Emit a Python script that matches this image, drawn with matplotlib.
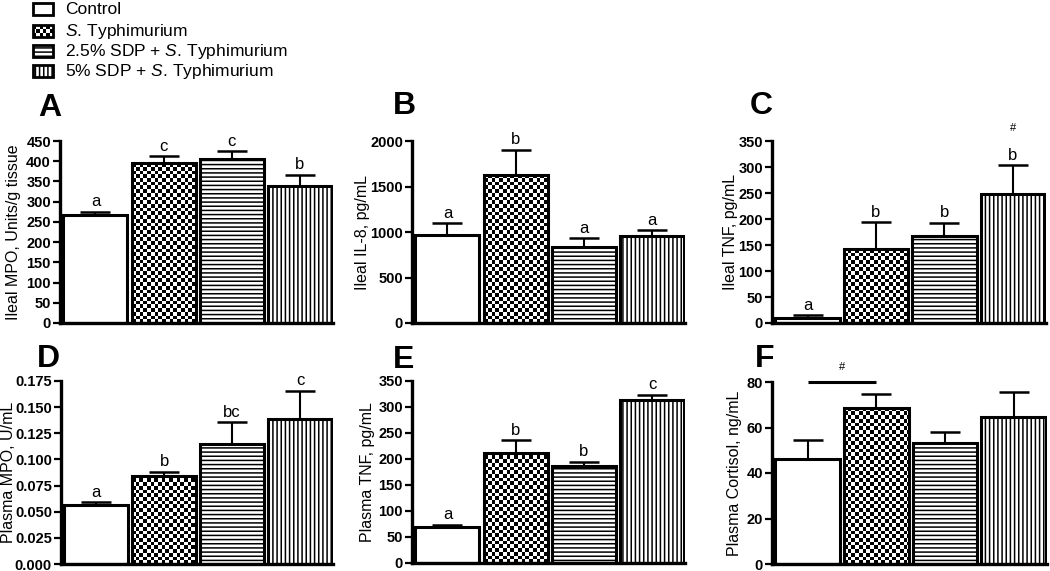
import numpy as np
import matplotlib
matplotlib.use('Agg')
import matplotlib.pyplot as plt
from matplotlib.patches import Rectangle

plt.rcParams['font.family'] = ['Liberation Sans', 'DejaVu Sans']
plt.rcParams['mathtext.fontset'] = 'custom'
plt.rcParams['mathtext.rm'] = 'Liberation Sans'
plt.rcParams['mathtext.it'] = 'Liberation Sans:italic'
plt.rcParams['hatch.linewidth'] = 1.1

# ---------------- data ----------------
groups = ['Control', r'$\it{S.}\,$Typhimurium',
          r'2.5% SDP + $\it{S.}\,$Typhimurium', r'5% SDP + $\it{S.}\,$Typhimurium']

a_mean = [266, 396, 405, 338]
a_err = [9, 16, 20, 28]
a_sig = ['a', 'c', 'c', 'b']
a_ticks = [0, 50, 100, 150, 200, 250, 300, 350, 400, 450]

b_mean = [963, 1630, 832, 956]
b_err = [132, 275, 98, 62]
b_sig = ['a', 'b', 'a', 'a']
b_ticks = [0, 500, 1000, 1500, 2000]

c_mean = [10, 142, 167, 248]
c_err = [5, 52, 26, 55]
c_sig = ['a', 'b', 'b', 'b']
c_ticks = [0, 50, 100, 150, 200, 250, 300, 350]

d_mean = [0.0565, 0.0837, 0.1143, 0.1383]
d_err = [0.0025, 0.0043, 0.0211, 0.0271]
d_sig = ['a', 'b', 'bc', 'c']
d_ticks = [0.0, 0.025, 0.05, 0.075, 0.1, 0.125, 0.15, 0.175]

e_mean = [69, 211, 186, 313]
e_err = [4, 25, 9, 10]
e_sig = ['a', 'b', 'b', 'c']
e_ticks = [0, 50, 100, 150, 200, 250, 300, 350]

f_mean = [46.3, 68.6, 53.0, 64.5]
f_err = [8.1, 6.1, 5.1, 11.1]
f_sig = ['', '', '', '']
f_ticks = [0, 20, 40, 60, 80]

ylabels = ['Ileal MPO, Units/g tissue', 'Ileal IL-8, pg/mL', 'Ileal TNF, pg/mL',
           'Plasma MPO, U/mL', 'Plasma TNF, pg/mL', 'Plasma Cortisol, ng/mL']
panel_letters = ['A', 'B', 'C', 'D', 'E', 'F']
tick_fmt = ['{:.0f}', '{:.0f}', '{:.0f}', '{:.3f}', '{:.0f}', '{:.0f}']

# ---------------- layout ----------------
W, H = 1050, 571
fig = plt.figure(figsize=(W / 100, H / 100), dpi=100)

# (left, top, right, bottom) in pixels
rects = [(60, 141, 333, 323), (412, 141, 685, 323), (772, 141, 1046, 323),
         (61, 381, 333, 564), (412, 381, 685, 563), (772, 382, 1047, 564)]
label_x = [-0.143, -0.154, -0.124, -0.165, -0.135, -0.109]
letter_pos = [(38, 116), (393, 114), (750, 114), (37, 367), (393, 368), (755, 367)]

means = [a_mean, b_mean, c_mean, d_mean, e_mean, f_mean]
errs = [a_err, b_err, c_err, d_err, e_err, f_err]
sigs = [a_sig, b_sig, c_sig, d_sig, e_sig, f_sig]
ticks = [a_ticks, b_ticks, c_ticks, d_ticks, e_ticks, f_ticks]

EDGE = 2.2
BW = 0.94
XLIM = (-0.52, 3.485)
CELL = 3.7  # checker cell size in px


def checker_fill(ax, bar, xlim, ylim, wpx, hpx, z):
    x0, w, h = bar.get_x(), bar.get_width(), bar.get_height()
    dx = (xlim[1] - xlim[0]) / wpx * CELL
    dy = (ylim[1] - ylim[0]) / hpx * CELL
    nx = int(np.ceil(w / dx)) + 1
    ny = int(np.ceil(h / dy)) + 1
    arr = (np.add.outer(np.arange(ny), np.arange(nx)) % 2).astype(float)
    im = ax.imshow(arr, cmap='gray', vmin=0, vmax=1, origin='lower',
                   extent=(x0, x0 + nx * dx, 0, ny * dy),
                   interpolation='nearest', aspect='auto', zorder=z)
    im.set_clip_path(bar)


for i in range(6):
    l, t, r, b = rects[i]
    ax = fig.add_axes([l / W, 1 - b / H, (r - l) / W, (b - t) / H])
    x = np.arange(4)
    ylim = (0, ticks[i][-1])
    wpx, hpx = r - l, b - t

    bars = ax.bar(x, means[i], width=BW, color='white', edgecolor='none', zorder=2)
    checker_fill(ax, bars[1], XLIM, ylim, wpx, hpx, 2.5)
    hatches = [None, None, '----', '||||']
    for j in range(4):
        ax.bar(x[j], means[i][j], width=BW, facecolor='none', edgecolor='black',
               linewidth=EDGE, hatch=hatches[j], zorder=3)
    ax.errorbar(x, means[i], yerr=[np.zeros(4), errs[i]], fmt='none', ecolor='black',
                elinewidth=1.5, capsize=11, capthick=1.8, zorder=1.5)

    for j in range(4):
        if sigs[i][j]:
            ax.annotate(sigs[i][j], (x[j], means[i][j] + errs[i][j]),
                        xytext=(0, 4), textcoords='offset points',
                        ha='center', va='baseline', fontsize=12)

    ax.set_xlim(*XLIM)
    ax.set_ylim(*ylim)
    ax.set_yticks(ticks[i])
    ax.set_yticklabels([tick_fmt[i].format(v) for v in ticks[i]],
                       fontweight='bold', fontsize=10.5)
    ax.set_xticks([])
    for s in ['top', 'right']:
        ax.spines[s].set_visible(False)
    for s in ['left', 'bottom']:
        ax.spines[s].set_linewidth(2.4)
    ax.tick_params(axis='y', width=1.6, length=5, pad=1.5)
    ax.set_ylabel(ylabels[i], fontsize=11.5)
    ax.yaxis.set_label_coords(label_x[i], 0.5)

    lx, ly = letter_pos[i]
    fig.text(lx / W, 1 - ly / H, panel_letters[i], fontsize=23, fontweight='bold',
             ha='left', va='baseline')

    if i == 2:
        ax.text(3, 375, '#', ha='center', va='center', fontsize=8, clip_on=False)
    if i == 5:
        ax.plot([0, 1], [80, 80], color='black', lw=2.2, clip_on=False, solid_capstyle='butt')
        ax.text(0.5, 86.6, '#', ha='center', va='center', fontsize=8, clip_on=False)

# ---------------- legend ----------------
lax = fig.add_axes([0, 0, 1, 1], zorder=-1)
lax.set_xlim(0, W)
lax.set_ylim(H, 0)
lax.axis('off')
box_tops = [2.5, 25, 45, 65]
box_h = 12
for k in range(4):
    y0 = box_tops[k]
    if k == 1:
        n = 6
        arr = (np.add.outer(np.arange(3), np.arange(n)) % 2).astype(float)
        lax.imshow(arr, cmap='gray', vmin=0, vmax=1, extent=(33, 53, y0 + box_h, y0),
                   interpolation='nearest', aspect='auto')
        lax.add_patch(Rectangle((33, y0), 20, box_h, facecolor='none', edgecolor='black',
                                linewidth=2.0))
    else:
        lax.add_patch(Rectangle((33, y0), 20, box_h, facecolor='white', edgecolor='black',
                                linewidth=2.0, hatch=[None, None, '----', '||||'][k]))
    lax.text(65, y0 + box_h / 2 + 0.5, groups[k], fontsize=12.5, ha='left', va='center')
lax.set_xlim(0, W)
lax.set_ylim(H, 0)

fig.savefig('out.png', dpi=100)
